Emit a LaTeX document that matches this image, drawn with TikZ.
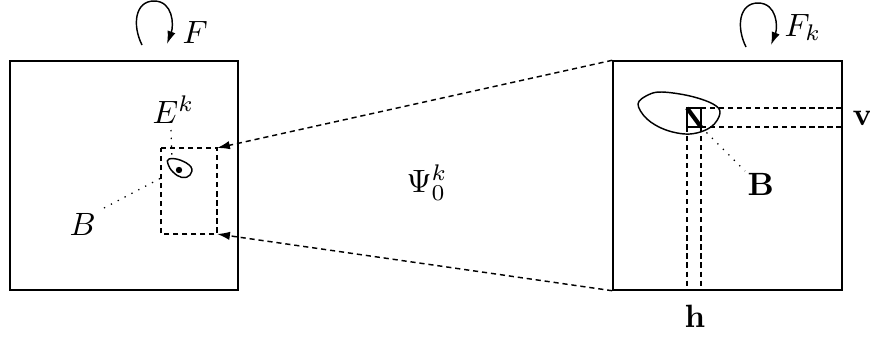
\documentclass[tikz,border=0pt]{standalone}
\usetikzlibrary{arrows.meta}
\begin{document}
\begin{tikzpicture}[x=0.31pt,y=-0.31pt,
  thinline/.style={line width=0.45pt},
  dashline/.style={thinline,dashed,dash pattern=on 1.6pt off 1.2pt},
  dotline/.style={line width=0.4pt,dotted},
  maparrow/.style={dashline,-{Latex[length=4pt,width=2.6pt]}},
  looparrow/.style={thinline,-{Latex[length=4pt,width=2.6pt]}},
  lbl/.style={inner sep=0pt,anchor=base west}]
\useasboundingbox (0,0) rectangle (870,337);
% boxes
\node[draw,thinline,minimum width=228*0.31pt,minimum height=229*0.31pt,inner sep=0pt] (L) at (124,175.5) {};
\node[draw,thinline,minimum width=229*0.31pt,minimum height=229*0.31pt,inner sep=0pt] (R) at (727.5,175.5) {};
% small dashed rectangle
\coordinate (sA) at (161,148);
\coordinate (sB) at (217,148);
\coordinate (sC) at (217,234);
\coordinate (sD) at (161,234);
\draw[dashline] (sA) -- (sB) -- (sC) -- (sD) -- cycle;
% map arrows
\draw[maparrow] (R.north west) -- (sB);
\draw[maparrow] (R.south west) -- (sC);
\node[lbl] (psi) at (406,192) {$\Psi_0^k$};
% left loop and dot
\draw[thinline] plot[smooth cycle,tension=0.7] coordinates {(169,159) (180,160) (191,167) (190,175) (182,177.5) (173,172) (168,164)};
\coordinate (sm) at (172,158);
\fill (179,170) circle (3.2);
\node[lbl] (Ek) at (152,123) {$E^k$};
\draw[dotline] (171,130) -- (sm);
\node[lbl] (B1) at (69,235) {$B$};
\coordinate (bt) at (161,178);
\draw[dotline] (104,208) -- (bt);
% top loops
\draw[looparrow] (142,45) .. controls (132,25) and (135,1) .. (154,1) .. controls (173,1) and (174,25) .. (167,44);
\node[lbl] (F) at (182,43) {$F$};
\draw[looparrow] (746,47) .. controls (736,27) and (739,3) .. (758,3) .. controls (777,3) and (778,27) .. (771,45);
\node[lbl] (Fk) at (784,36) {$F_k$};
% right box interior
\draw[thinline] plot[smooth cycle,tension=0.6] coordinates {(638,104) (648,95) (662,92) (690,96) (713,104) (720,113) (711,127) (690,134) (666,130) (647,119)};
\coordinate (q1) at (687,108);
\coordinate (q2) at (701,108);
\coordinate (q3) at (701,127);
\coordinate (q4) at (687,127);
\draw[thinline] (q1) rectangle (q3);
\draw[line width=1.3pt] (q1) -- (q3);
\coordinate (e1) at (R.east |- q2);
\coordinate (e2) at (R.east |- q3);
\coordinate (b1) at (R.south -| q4);
\coordinate (b2) at (R.south -| q3);
\draw[dashline] (q2) -- (e1);
\draw[dashline] (q3) -- (e2);
\draw[dashline] (q4) -- (b1);
\draw[dashline] (q3) -- (b2);
\node[lbl] (v) at (852,125) {$\mathbf{v}$};
\node[lbl] (h) at (684,327) {$\mathbf{h}$};
\node[lbl] (B2) at (747,195) {$\mathbf{B}$};
\draw[dotline] (q3) -- (745,171);
\end{tikzpicture}
\end{document}
